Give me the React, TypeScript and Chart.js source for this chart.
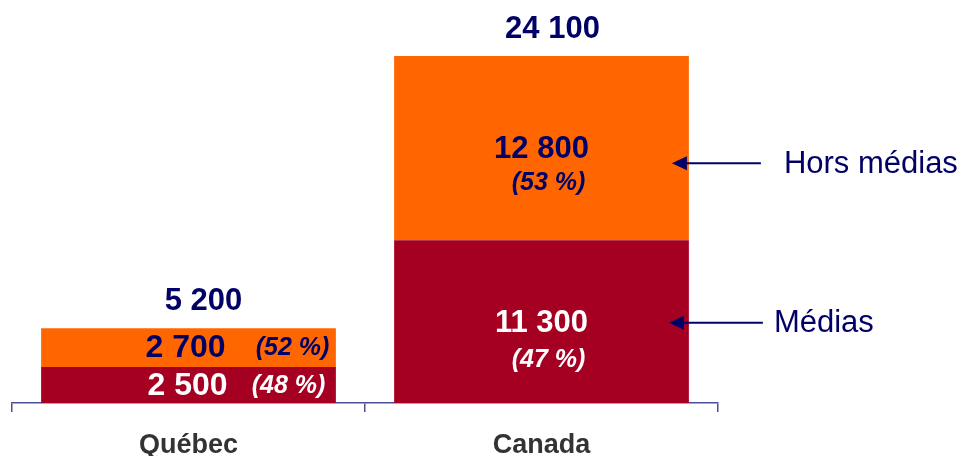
import React, { useEffect, useRef } from "react";
import { Chart, registerables } from "chart.js";

Chart.register(...registerables);

const categories = ["Québec", "Canada"];
const seriesNames = ["Médias", "Hors médias"];
const mediasValues = [2500, 11300];
const horsMediasValues = [2700, 12800];

const FONT = "'Liberation Sans', Arial, Helvetica, sans-serif";
const NAVY = "#000066";
const RED = "#A50021";
const ORANGE = "#FF6600";
const AXIS = "#4d4d99";

const fmt = (v: number) => String(v).replace(/\B(?=(\d{3})+(?!\d))/g, " ");

const labelPlugin = {
  id: "barLabels",
  afterDatasetsDraw(chart: any) {
    const ctx = chart.ctx as CanvasRenderingContext2D;
    const metaM = chart.getDatasetMeta(0);
    const metaH = chart.getDatasetMeta(1);
    ctx.save();
    ctx.textAlign = "center";
    ctx.textBaseline = "middle";
    const numFont = `bold 31px ${FONT}`;
    const numFontQ = `bold 32px ${FONT}`;
    const pctFont = `italic bold 25px ${FONT}`;
    categories.forEach((_, i) => {
      const bm = metaM.data[i];
      const bh = metaH.data[i];
      const total = mediasValues[i] + horsMediasValues[i];
      const pm = Math.round((mediasValues[i] / total) * 100);
      const ph = Math.round((horsMediasValues[i] / total) * 100);
      const cx = bm.x;
      const midM = (bm.y + bm.base) / 2;
      const midH = (bh.y + bh.base) / 2;
      // total
      ctx.fillStyle = NAVY;
      ctx.font = numFont;
      ctx.fillText(fmt(total), cx + (i === 0 ? 15 : 11), bh.y - 27);
      if (i === 0) {
        ctx.fillStyle = NAVY;
        ctx.font = numFontQ;
        ctx.fillText(fmt(horsMediasValues[i]), cx - 3, midH + 1);
        ctx.font = pctFont;
        ctx.fillText(`(${ph} %)`, cx + 104, midH + 1);
        ctx.fillStyle = "#ffffff";
        ctx.font = numFontQ;
        ctx.fillText(fmt(mediasValues[i]), cx - 1, midM + 1);
        ctx.font = pctFont;
        ctx.fillText(`(${pm} %)`, cx + 100, midM + 1);
      } else {
        ctx.fillStyle = NAVY;
        ctx.font = numFont;
        ctx.fillText(fmt(horsMediasValues[i]), cx, midH + 1);
        ctx.font = pctFont;
        ctx.fillText(`(${ph} %)`, cx + 7, midH + 35);
        ctx.fillStyle = "#ffffff";
        ctx.font = numFont;
        ctx.fillText(fmt(mediasValues[i]), cx, midM + 2);
        ctx.font = pctFont;
        ctx.fillText(`(${pm} %)`, cx + 7, midM + 38);

        // arrows + series names
        const right = bm.x + bm.width / 2;
        const arrows = [
          { y: midH + 15, name: seriesNames[1], tip: right - 17, tail: right + 72, tx: right + 95 },
          { y: midM + 1, name: seriesNames[0], tip: right - 20, tail: right + 74, tx: right + 85 },
        ];
        arrows.forEach((a) => {
          ctx.strokeStyle = NAVY;
          ctx.fillStyle = NAVY;
          ctx.lineWidth = 2;
          ctx.beginPath();
          ctx.moveTo(a.tail, a.y);
          ctx.lineTo(a.tip + 12, a.y);
          ctx.stroke();
          ctx.beginPath();
          ctx.moveTo(a.tip, a.y);
          ctx.lineTo(a.tip + 15, a.y - 7);
          ctx.lineTo(a.tip + 15, a.y + 7);
          ctx.closePath();
          ctx.fill();
          ctx.font = `31px ${FONT}`;
          ctx.textAlign = "left";
          ctx.fillText(a.name, a.tx, a.y + 1);
          ctx.textAlign = "center";
        });
      }
    });
    ctx.restore();
  },
};

export default function App() {
  const ref = useRef<HTMLCanvasElement>(null);
  useEffect(() => {
    if (!ref.current) return;
    const chart = new Chart(ref.current, {
      type: "bar",
      data: {
        labels: categories,
        datasets: [
          {
            label: seriesNames[0],
            data: mediasValues,
            backgroundColor: RED,
            borderWidth: 0,
            barPercentage: 0.835,
            categoryPercentage: 1,
          },
          {
            label: seriesNames[1],
            data: horsMediasValues,
            backgroundColor: ORANGE,
            borderWidth: 0,
            barPercentage: 0.835,
            categoryPercentage: 1,
          },
        ],
      },
      options: {
        animation: false,
        responsive: true,
        maintainAspectRatio: false,
        layout: { padding: { left: 12, right: 246, top: 56, bottom: 0 } },
        plugins: { legend: { display: false }, tooltip: { enabled: false } },
        scales: {
          x: {
            stacked: true,
            afterFit: (scale: any) => {
              scale.height = 53;
            },
            grid: {
              offset: true,
              drawOnChartArea: false,
              drawTicks: true,
              tickLength: 9,
              color: AXIS,
              lineWidth: 1.5,
            },
            border: { display: true, color: AXIS, width: 1.5 },
            ticks: {
              color: "#333333",
              font: { family: FONT, size: 27, weight: "bold" },
              padding: 17,
            },
          },
          y: {
            stacked: true,
            display: false,
            min: 0,
            max: 24100,
          },
        },
      },
      plugins: [labelPlugin],
    });
    return () => chart.destroy();
  }, []);
  return (
    <div style={{ position: "fixed", left: 0, top: 0, width: 964, height: 456, background: "#fff" }}>
      <canvas ref={ref} />
    </div>
  );
}
